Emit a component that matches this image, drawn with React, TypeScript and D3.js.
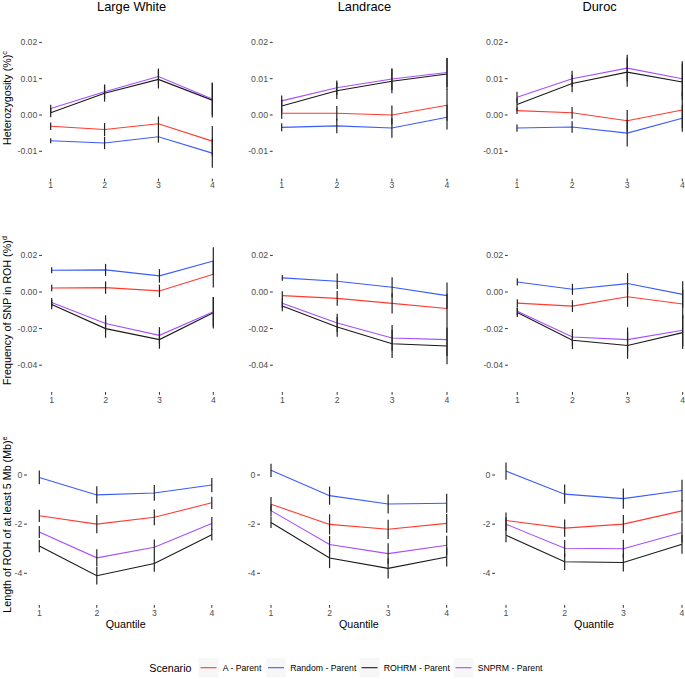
import React from "react";
import * as d3 from "d3";

// ---------- data ----------
const breeds = ["Large White", "Landrace", "Duroc"];
const quantiles = [1, 2, 3, 4];
const scenarios = ["A - Parent", "Random - Parent", "ROHRM - Parent", "SNPRM - Parent"];
const scenarioColors = ["#FF3B30", "#3A5BFF", "#1A1A1A", "#A64DFF"];

// Heterozygosity (%) — rows: Large White, Landrace, Duroc
const hetA = [[-0.0031, -0.004, -0.0024, -0.0072], [0.0005, 0.0005, 0.0, 0.0027], [0.0012, 0.0006, -0.0016, 0.0014]];
const hetRandom = [[-0.0071, -0.0077, -0.006, -0.0105], [-0.0034, -0.003, -0.0036, -0.0006], [-0.0036, -0.0033, -0.005, -0.0009]];
const hetROHRM = [[0.0006, 0.006, 0.0098, 0.0041], [0.0025, 0.0067, 0.0093, 0.0113], [0.0029, 0.0087, 0.0118, 0.0091]];
const hetSNPRM = [[0.0018, 0.0064, 0.0106, 0.0044], [0.0039, 0.0075, 0.0099, 0.0117], [0.0049, 0.01, 0.0129, 0.01]];
const hetA_se = [[0.001, 0.0018, 0.002, 0.0042], [0.0015, 0.002, 0.0026, 0.0043], [0.0009, 0.0016, 0.003, 0.005]];
const hetRandom_se = [[0.0007, 0.0017, 0.0016, 0.004], [0.0011, 0.002, 0.0027, 0.0034], [0.001, 0.0016, 0.0037, 0.0037]];
const hetROHRM_se = [[0.0012, 0.0023, 0.0025, 0.0048], [0.0018, 0.0023, 0.0033, 0.0044], [0.0018, 0.0024, 0.004, 0.005]];
const hetSNPRM_se = [[0.001, 0.002, 0.0022, 0.0045], [0.0015, 0.002, 0.003, 0.004], [0.0015, 0.0022, 0.0037, 0.0048]];

// Frequency of SNP in ROH (%)
const frqA = [[0.0022, 0.0024, 0.0006, 0.0097], [-0.002, -0.0035, -0.0062, -0.009], [-0.0061, -0.0077, -0.0026, -0.0066]];
const frqRandom = [[0.0119, 0.0121, 0.0088, 0.0169], [0.0077, 0.0059, 0.0026, -0.002], [0.0055, 0.0015, 0.0046, -0.0013]];
const frqROHRM = [[-0.0068, -0.02, -0.026, -0.0114], [-0.0077, -0.0191, -0.0283, -0.0295], [-0.0112, -0.0264, -0.0292, -0.0222]];
const frqSNPRM = [[-0.0057, -0.0172, -0.0237, -0.0108], [-0.0062, -0.0169, -0.0251, -0.026], [-0.0105, -0.0246, -0.026, -0.0209]];
const frqA_se = [[0.0018, 0.0034, 0.0034, 0.0073], [0.0024, 0.004, 0.0055, 0.008], [0.0021, 0.0032, 0.0055, 0.0078]];
const frqRandom_se = [[0.0016, 0.0033, 0.0037, 0.0076], [0.0016, 0.0042, 0.0055, 0.0072], [0.002, 0.003, 0.0057, 0.0072]];
const frqROHRM_se = [[0.0026, 0.005, 0.005, 0.0085], [0.0028, 0.0054, 0.0077, 0.01], [0.0024, 0.0048, 0.0073, 0.009]];
const frqSNPRM_se = [[0.0024, 0.0045, 0.0045, 0.008], [0.0025, 0.005, 0.007, 0.009], [0.0022, 0.0044, 0.0066, 0.0085]];

// Length of ROH of at least 5 Mb (Mb)
const lenA = [[-1.66, -2.0, -1.72, -1.13], [-1.19, -2.01, -2.21, -1.97], [-1.85, -2.16, -2.0, -1.46]];
const lenRandom = [[-0.1, -0.81, -0.73, -0.41], [0.19, -0.84, -1.18, -1.15], [0.16, -0.78, -0.96, -0.63]];
const lenROHRM = [[-2.89, -4.1, -3.6, -2.43], [-1.93, -3.38, -3.8, -3.34], [-2.45, -3.53, -3.56, -2.82]];
const lenSNPRM = [[-2.32, -3.37, -2.94, -1.97], [-1.45, -2.83, -3.2, -2.86], [-2.0, -2.98, -3.0, -2.34]];
const lenA_se = [[0.25, 0.37, 0.32, 0.25], [0.29, 0.41, 0.39, 0.38], [0.32, 0.35, 0.37, 0.44]];
const lenRandom_se = [[0.28, 0.35, 0.32, 0.29], [0.27, 0.37, 0.39, 0.39], [0.35, 0.39, 0.41, 0.44]];
const lenROHRM_se = [[0.25, 0.36, 0.34, 0.24], [0.23, 0.41, 0.41, 0.38], [0.29, 0.34, 0.37, 0.38]];
const lenSNPRM_se = [[0.24, 0.35, 0.32, 0.26], [0.24, 0.35, 0.42, 0.39], [0.27, 0.34, 0.37, 0.41]];

const hetTicks = [0.02, 0.01, 0.0, -0.01];
const hetTickLabels = ["0.02", "0.01", "0.00", "-0.01"];
const frqTicks = [0.02, 0.0, -0.02, -0.04];
const frqTickLabels = ["0.02", "0.00", "-0.02", "-0.04"];
const lenTicks = [0, -2, -4];
const lenTickLabels = ["0", "-2", "-4"];

// ---------- layout ----------
const FONT = "'Liberation Sans', Arial, Helvetica, sans-serif";
const rows = [
  {
    values: [hetA, hetRandom, hetROHRM, hetSNPRM],
    errors: [hetA_se, hetRandom_se, hetROHRM_se, hetSNPRM_se],
    ticks: hetTicks, tickLabels: hetTickLabels,
    yDomain: [0, 0.01], yRange: [115, 78.7],
    x1: [50.7, 281.7, 517], x4: [212.3, 447, 682.3], tickR: [41.9, 272.6, 507.6],
    xTickY: 178.6, xLabY: 188.4,
    title: "Heterozygosity (%)", sup: "c", titleStart: 145,
  },
  {
    values: [frqA, frqRandom, frqROHRM, frqSNPRM],
    errors: [frqA_se, frqRandom_se, frqROHRM_se, frqSNPRM_se],
    ticks: frqTicks, tickLabels: frqTickLabels,
    yDomain: [0, -0.04], yRange: [292, 365.2],
    x1: [51.7, 282.3, 517.3], x4: [213.3, 447, 682.7], tickR: [41.9, 272.8, 507.8],
    xTickY: 392, xLabY: 402.7,
    title: "Frequency of SNP in ROH (%)", sup: "d", titleStart: 385,
  },
  {
    values: [lenA, lenRandom, lenROHRM, lenSNPRM],
    errors: [lenA_se, lenRandom_se, lenROHRM_se, lenSNPRM_se],
    ticks: lenTicks, tickLabels: lenTickLabels,
    yDomain: [0, -4], yRange: [475, 573.3],
    x1: [39.3, 271, 506], x4: [211.8, 446.7, 682], tickR: [26.9, 260, 495],
    xTickY: 605, xLabY: 616,
    title: "Length of ROH of at least 5 Mb (Mb)", sup: "e", titleStart: 612.7,
  },
];

const legendBoxX = [198.5, 266, 359.5, 453.5];

function Panel({ row, col }: { row: any; col: number }) {
  const x = d3.scaleLinear().domain([1, 4]).range([row.x1[col], row.x4[col]]);
  const y = d3.scaleLinear().domain(row.yDomain).range(row.yRange);
  const line = d3
    .line<number>()
    .x((_, i) => x(quantiles[i]))
    .y((d) => y(d));
  const tr = row.tickR[col];
  return (
    <g>
      {row.ticks.map((t: number, i: number) => (
        <g key={"yt" + i}>
          <line x1={tr - 2.8} x2={tr} y1={y(t)} y2={y(t)} stroke="#333" strokeWidth={1} />
          <text x={tr - 4.6} y={y(t)} dy="0.35em" textAnchor="end" fontSize={8.7} fill="#4d4d4d" fontFamily={FONT}>
            {row.tickLabels[i]}
          </text>
        </g>
      ))}
      {quantiles.map((q) => (
        <g key={"xt" + q}>
          <line x1={x(q)} x2={x(q)} y1={row.xTickY} y2={row.xTickY + 2.8} stroke="#333" strokeWidth={1} />
          <text x={x(q)} y={row.xLabY} textAnchor="middle" fontSize={8.7} fill="#4d4d4d" fontFamily={FONT}>
            {q}
          </text>
        </g>
      ))}
      {scenarios.map((s, si) => (
        <path
          key={"ln" + si}
          d={line(row.values[si][col]) || ""}
          fill="none"
          stroke={scenarioColors[si]}
          strokeWidth={1.1}
        />
      ))}
      {scenarios.map((s, si) =>
        row.values[si][col].map((v: number, qi: number) => {
          const e = row.errors[si][col][qi];
          return (
            <line
              key={"eb" + si + "-" + qi}
              x1={x(quantiles[qi])}
              x2={x(quantiles[qi])}
              y1={y(v - e)}
              y2={y(v + e)}
              stroke="#222"
              strokeWidth={1.2}
            />
          );
        })
      )}
    </g>
  );
}

export default function App() {
  const titleX = [131.6, 364.4, 599.6];
  const quantX = [125.7, 358.9, 594];
  return (
    <svg
      width={685}
      height={679}
      style={{ position: "absolute", left: 0, top: 0, background: "#fff" }}
      fontFamily={FONT}
    >
      <rect x={0} y={0} width={685} height={679} fill="#fff" />
      {breeds.map((b, i) => (
        <text key={b} x={titleX[i]} y={11.4} textAnchor="middle" fontSize={12.8} fill="#000">
          {b}
        </text>
      ))}
      {rows.map((row, ri) => (
        <g key={"row" + ri}>
          {breeds.map((b, ci) => (
            <Panel key={b} row={row} col={ci} />
          ))}
          <text
            transform={`translate(11.3,${row.titleStart}) rotate(-90)`}
            fontSize={10.7}
            fill="#000"
            textAnchor="start"
          >
            {row.title}
            <tspan fontSize={7.5} dy={-4}>
              {row.sup}
            </tspan>
          </text>
        </g>
      ))}
      {quantX.map((qx, i) => (
        <text key={"q" + i} x={qx} y={628.3} textAnchor="middle" fontSize={10.7} fill="#000">
          Quantile
        </text>
      ))}
      {/* legend */}
      <text x={149.3} y={672} fontSize={10.7} fill="#000">
        Scenario
      </text>
      {scenarios.map((s, i) => (
        <g key={"lg" + i}>
          <rect x={legendBoxX[i]} y={658} width={20} height={19.5} fill="#f7f7f7" />
          <line
            x1={legendBoxX[i] + 2}
            x2={legendBoxX[i] + 18}
            y1={667.7}
            y2={667.7}
            stroke={scenarioColors[i]}
            strokeWidth={1.1}
          />
          <text x={legendBoxX[i] + 24.2} y={670.8} fontSize={8.7} fill="#000">
            {s}
          </text>
        </g>
      ))}
    </svg>
  );
}
